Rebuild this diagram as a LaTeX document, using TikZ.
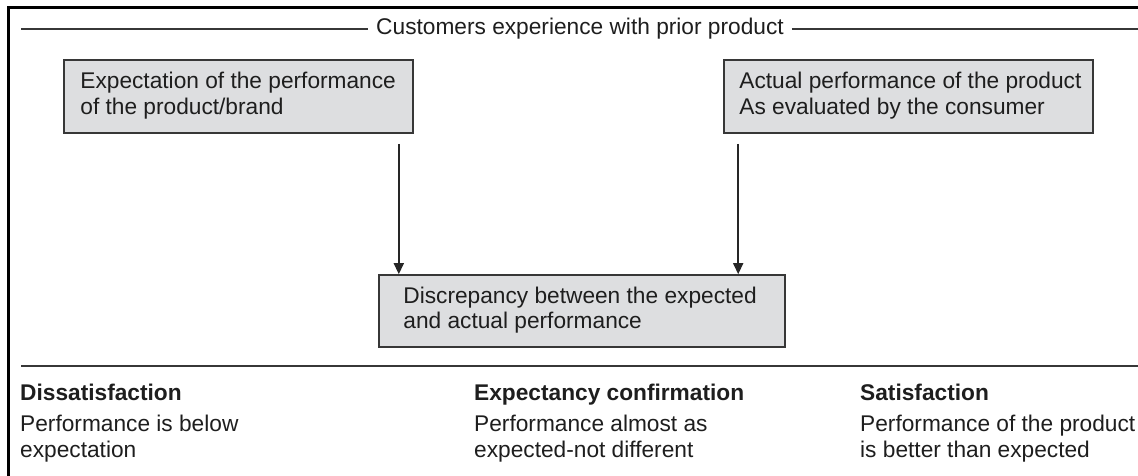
\documentclass[tikz,border=0pt]{standalone}
\usepackage{fontspec}
\setmainfont{Liberation Sans}
\usetikzlibrary{arrows.meta,calc}
\definecolor{boxfill}{RGB}{221,222,224}
\definecolor{ink}{RGB}{30,30,30}
\definecolor{rulegray}{RGB}{55,55,55}
\begin{document}
\begin{tikzpicture}[x=1pt,y=-1pt,
  txt/.style={font=\fontsize{22.7}{25.5}\selectfont, text=ink, inner sep=0pt, align=left},
  head/.style={txt, font=\fontsize{22.7}{25.5}\selectfont\bfseries},
  infobox/.style={draw=rulegray, line width=1.6pt, fill=boxfill, inner sep=0pt},
  thinrule/.style={draw=rulegray, line width=1.5pt},
  arr/.style={draw=black!85, line width=1.5pt, -{Triangle[width=10pt,length=11pt]}}]
\clip (0,0) rectangle (1138,476);
\fill[white] (0,0) rectangle (1138,476);
% outer frame (left and top edges)
\draw[line width=3pt] (8.5,480) -- (8.5,7.5) -- (1145,7.5);

% heading rule with title
\node[txt] (title) at (580,29) {Customers experience with prior product};
\coordinate (tl) at (21,29);
\coordinate (tr) at (1138,29);
\draw[thinrule] (tl) -- ([xshift=-8pt]title.west);
\draw[thinrule] ([xshift=8pt]title.east) -- (tr);

% the three boxes
\node[infobox, minimum width=349pt, minimum height=73pt] (expect) at (238.5,96.5) {};
\node[txt, anchor=west] (expectT) at ([xshift=17pt,yshift=1pt]expect.west)
  {Expectation of the performance\\of the product/brand};
\node[infobox, minimum width=369pt, minimum height=73pt] (actual) at (908.5,96.5) {};
\node[txt, anchor=west] (actualT) at ([xshift=16pt,yshift=1pt]actual.west)
  {Actual performance of the product\\As evaluated by the consumer};
\node[infobox, minimum width=406pt, minimum height=72pt] (gap) at (582,311) {};
\node[txt, anchor=west] (gapT) at ([xshift=25pt,yshift=1pt]gap.west)
  {Discrepancy between the expected\\and actual performance};

% arrows into the discrepancy box
\draw[arr] ([xshift=-15pt,yshift=-10pt]expect.south east) -- ([xshift=-15pt]expect.east |- gap.north);
\draw[arr] ([xshift=15pt,yshift=-10pt]actual.south west) -- ([xshift=15pt]actual.west |- gap.north);

% lower rule and outcome columns
\coordinate (bl) at (21,366);
\coordinate (br) at (1138,366);
\draw[thinrule] (bl) -- (br);

\node[head, anchor=base west] (h1) at (20,400) {Dissatisfaction};
\node[txt, anchor=north west] (d1) at (20,415) {Performance is below\\expectation};
\node[head, anchor=base west] (h2) at (474,400) {Expectancy confirmation};
\node[txt, anchor=north west] (d2) at (474,415) {Performance almost as\\expected-not different};
\node[head, anchor=base west] (h3) at (860,400) {Satisfaction};
\node[txt, anchor=north west] (d3) at (860,415) {Performance of the product\\is better than expected};
\end{tikzpicture}
\end{document}
